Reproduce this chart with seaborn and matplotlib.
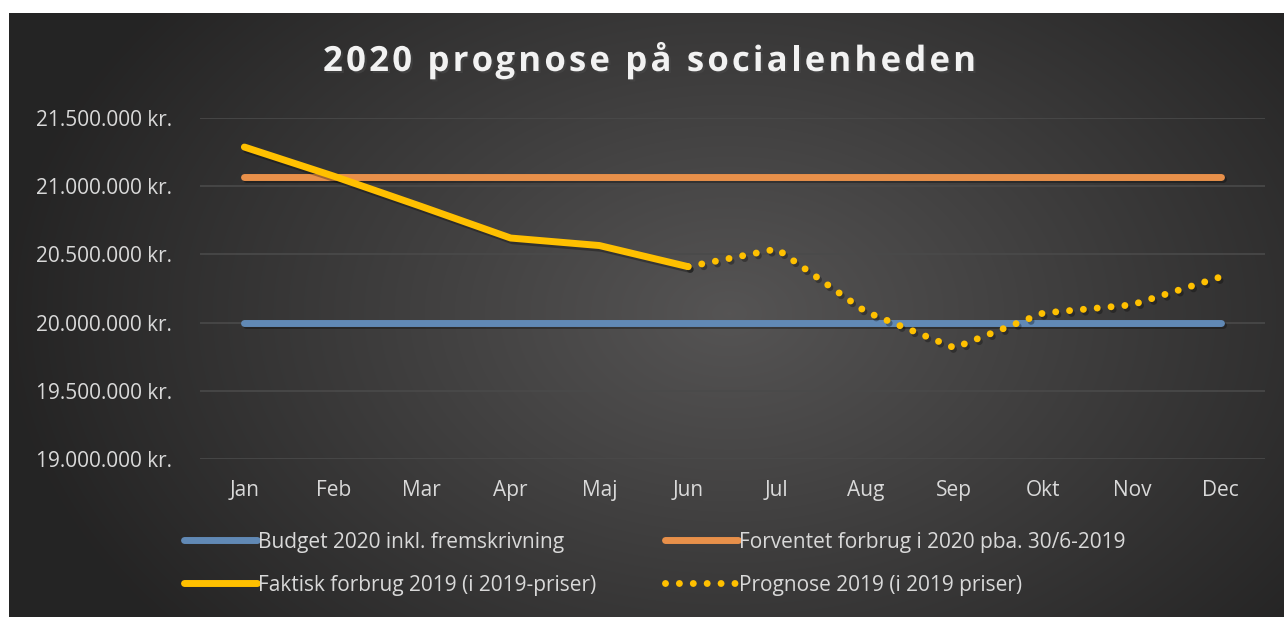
import numpy as np
import pandas as pd
import matplotlib
matplotlib.use('Agg')
import matplotlib.pyplot as plt
import matplotlib.patheffects as pe
from matplotlib.ticker import FuncFormatter
from matplotlib.lines import Line2D
import seaborn as sns

months = ['Jan', 'Feb', 'Mar', 'Apr', 'Maj', 'Jun', 'Jul', 'Aug', 'Sep', 'Okt', 'Nov', 'Dec']
budget = [20000000] * 12
forventet = [21070000] * 12
faktisk = [21287000, 21075000, 20850000, 20620000, 20565000, 20410000]
prognose_months = ['Jun', 'Jul', 'Aug', 'Sep', 'Okt', 'Nov', 'Dec']
prognose = [20410000, 20540000, 20080000, 19815000, 20070000, 20130000, 20335000]

labels = ['Budget 2020 inkl. fremskrivning',
          'Forventet forbrug i 2020 pba. 30/6-2019',
          'Faktisk forbrug 2019 (i 2019-priser)',
          'Prognose 2019 (i 2019 priser)']
title = '2020 prognose på socialenheden'

BLUE = '#6189b5'
ORANGE = '#e8904a'
YELLOW = '#ffc000'
TXT = '#d9d9d9'

sns.set_style('dark')
plt.rcParams['font.family'] = ['Open Sans', 'DejaVu Sans']

fig = plt.figure(figsize=(12.84, 6.17), dpi=100, facecolor='white')

# dark radial background
bg = fig.add_axes([9 / 1284, 0, 1275 / 1284, 604 / 617])
yy, xx = np.mgrid[0:604, 0:1275]
d = np.sqrt(((xx - 720) / 760.0) ** 2 + ((yy - 300) / 520.0) ** 2)
shade = np.clip(0.335 - 0.2 * d, 0.145, 0.34)
bg.imshow(np.dstack([shade, shade * 0.985, shade * 0.985]), aspect='auto', interpolation='bilinear')
bg.set_axis_off()

ax = fig.add_axes([200 / 1284, 158 / 617, 1065 / 1284, 341 / 617])
ax.set_facecolor('none')

shadow = [pe.SimpleLineShadow(offset=(1.5, -2), shadow_color='black', alpha=0.3), pe.Normal()]

sns.lineplot(x=months, y=budget, ax=ax, color=BLUE, lw=5, sort=False,
             solid_capstyle='round', path_effects=shadow)
sns.lineplot(x=months, y=forventet, ax=ax, color=ORANGE, lw=5, sort=False,
             solid_capstyle='round', path_effects=shadow)
sns.lineplot(x=months[:len(faktisk)], y=faktisk, ax=ax, color=YELLOW, lw=5, sort=False,
             solid_capstyle='round', solid_joinstyle='round', path_effects=shadow)
sns.lineplot(x=prognose_months, y=prognose, ax=ax, color=YELLOW, lw=5, sort=False,
             linestyle=(0, (0.001, 2.0)), dash_capstyle='round', path_effects=shadow)

ax.set_xlim(-0.5, 11.5)
ax.set_ylim(19000000, 21500000)
ax.set_yticks(np.arange(19000000, 21500001, 500000))
ax.yaxis.set_major_formatter(FuncFormatter(lambda v, p: f'{v:,.0f}'.replace(',', '.') + ' kr.'))
ax.grid(axis='y', color='#4a4a4a', lw=1.2)
ax.grid(axis='x', visible=False)
for s in ax.spines.values():
    s.set_visible(False)
ax.tick_params(axis='y', colors=TXT, labelsize=15, length=0, pad=20)
ax.tick_params(axis='x', colors=TXT, labelsize=15, length=0, pad=15)
ax.set_xlabel('')
ax.set_ylabel('')

# title with letter spacing, drawn char by char
renderer = fig.canvas.get_renderer()
tkw = dict(fontsize=25, fontweight='bold', color='#f2f2f2', va='center', ha='left',
           path_effects=[pe.SimplePatchShadow(offset=(1.5, -1.5), alpha=0.6), pe.Normal()])
probe = fig.text(0, 0, '|', **tkw)
bar_w = probe.get_window_extent(renderer).width
probe.remove()
track = 3.2
x0 = 323.0
for i, ch in enumerate(title):
    t = fig.text(0, 0, title[:i] + '|', **tkw)
    w = t.get_window_extent(renderer).width - bar_w
    t.remove()
    fig.text((x0 + w + track * i) / 1284, 1 - 62 / 617, ch, **tkw)

handles = [Line2D([], [], color=BLUE, lw=5, solid_capstyle='round'),
           Line2D([], [], color=ORANGE, lw=5, solid_capstyle='round'),
           Line2D([], [], color=YELLOW, lw=5, solid_capstyle='round'),
           Line2D([], [], color=YELLOW, lw=5, linestyle=(0, (0.001, 2.0)), dash_capstyle='round')]
leg = fig.legend([handles[0], handles[2], handles[1], handles[3]],
                 [labels[0], labels[2], labels[1], labels[3]],
                 ncol=2, loc='upper left', bbox_to_anchor=(165 / 1284, 1 - 513 / 617),
                 frameon=False, fontsize=15, labelcolor=TXT, handlelength=3.5,
                 handletextpad=0.05, columnspacing=3.3, labelspacing=1.05)

fig.savefig('out.png', dpi=100, facecolor='white')
